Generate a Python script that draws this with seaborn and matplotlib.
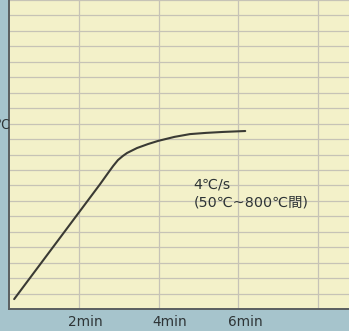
import matplotlib
matplotlib.use("Agg")
import matplotlib.pyplot as plt
import matplotlib.transforms as mtransforms
import seaborn as sns
import pandas as pd

# data (time in min, temperature in ℃)
time_min = [0.37, 2.53, 2.73, 2.86, 2.98, 3.1, 3.21, 3.46, 3.74, 3.99, 4.4, 4.79, 5.2, 5.62, 6.18]
temp_c = [32, 404, 440, 463, 482, 495, 505, 521, 534, 544, 557, 566, 570, 573, 576]
x_ticks = [2, 4, 6, 8]
x_tick_labels = ["2min", "4min", "6min", ""]
annot_lines = ["4℃/s", "(50℃~800℃間)"]

sns.set_theme(style="white")
plt.rcParams['font.family'] = ['DejaVu Sans', 'Noto Sans CJK JP']

fig = plt.figure(figsize=(3.49, 3.31), dpi=100)
fig.patch.set_facecolor("#a6c4cc")
W, H = 349, 331
ax = fig.add_axes([9 / W, (H - 309) / H, 342 / W, 309 / H])
ax.set_facecolor("#f3f1c9")

df = pd.DataFrame({"t": time_min, "T": temp_c})
sns.lineplot(data=df, x="t", y="T", ax=ax, color="#3a3a34", linewidth=1.5, sort=False)

ax.set_xlim(0.24, 8.84)
ax.set_ylim(0, 1000)
ax.set_xticks(x_ticks)
ax.set_xticklabels(x_tick_labels, fontsize=9.8, color="#2e3436")
ax.set_yticks(range(0, 1001, 50))
ax.set_yticklabels([])
ax.tick_params(axis="both", length=0, pad=4)
ax.grid(True, color="#c6c3b6", linewidth=0.9)
ax.set_xlabel("")
ax.set_ylabel("")

# labels sit a little to the right of their grid lines
for lab, dx in zip(ax.get_xticklabels(), [6, 11, 7, 0]):
    lab.set_transform(lab.get_transform() + mtransforms.ScaledTranslation(dx / 100, 0, fig.dpi_scale_trans))

for s in ["top", "right"]:
    ax.spines[s].set_visible(False)
for s in ["left", "bottom"]:
    ax.spines[s].set_color("#5a5f60")
    ax.spines[s].set_linewidth(1.4)

ax.text(4.88, 402, annot_lines[0], fontsize=10.3, color="#2e3436", va="center", ha="left")
ax.text(4.88, 345, annot_lines[1], fontsize=10.3, color="#2e3436", va="center", ha="left")

fig.text(-0.012, (H - 125) / H, "℃", fontsize=9, color="#2e3436", va="center", ha="left")

fig.savefig("out.png", dpi=100, facecolor=fig.get_facecolor())
